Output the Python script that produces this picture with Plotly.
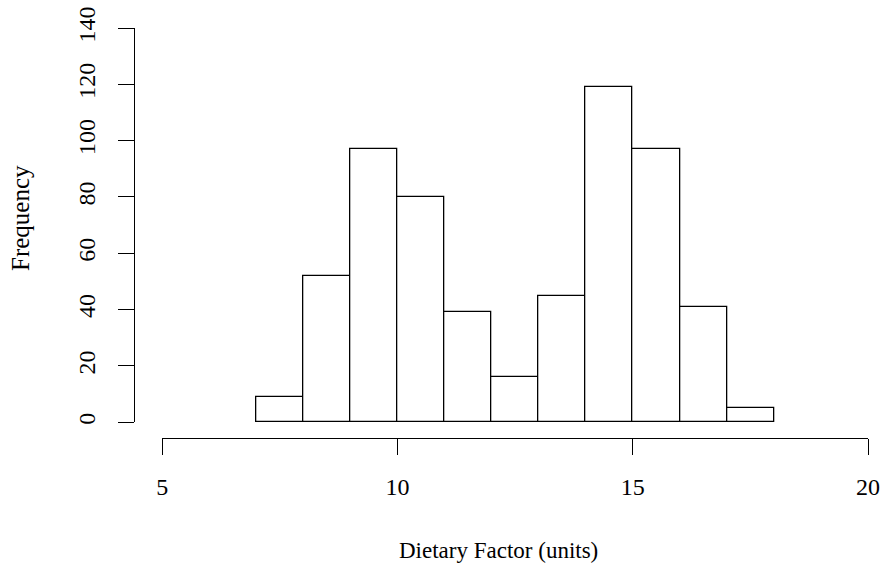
import plotly.graph_objects as go

bin_edges = [7, 8, 9, 10, 11, 12, 13, 14, 15, 16, 17, 18]
counts = [9, 52, 97, 80, 39, 16, 45, 119, 97, 41, 5]
x_ticks = [5, 10, 15, 20]
y_ticks = [0, 20, 40, 60, 80, 100, 120, 140]
x_title = "Dietary Factor (units)"
y_title = "Frequency"

centers = [(bin_edges[i] + bin_edges[i + 1]) / 2 for i in range(len(counts))]
widths = [bin_edges[i + 1] - bin_edges[i] for i in range(len(counts))]

FONT = "Liberation Serif, Times New Roman, serif"

fig = go.Figure(
    go.Bar(
        x=centers,
        y=counts,
        width=widths,
        marker=dict(color="white", line=dict(color="black", width=1.3)),
        hoverinfo="x+y",
    )
)

# Page body margin is removed by the post script, so figure pixels = page pixels.
W, H = 881, 566
L = 134          # y-axis line x
T = 28           # top of y axis
B = H - 438      # x-axis line y
R = W - 868      # right end of x axis
pw, ph = W - L - R, H - T - B

fig.update_layout(
    width=W,
    height=H,
    margin=dict(l=L, r=R, t=T, b=B, pad=0, autoexpand=False),
    paper_bgcolor="white",
    plot_bgcolor="white",
    showlegend=False,
    font=dict(family=FONT, size=24, color="black"),
    bargap=0,
)

fig.update_xaxes(
    domain=[(162.3 - L) / pw, 1],
    range=[5, 20],
    anchor="free",
    position=0,
    automargin=False,
    tickvals=x_ticks,
    ticktext=[str(v) for v in x_ticks],
    ticks="outside",
    ticklen=16,
    tickwidth=1,
    tickcolor="black",
    showline=True,
    linecolor="black",
    linewidth=1,
    showgrid=False,
    zeroline=False,
    ticklabelstandoff=11,
    ticklabeloverflow="allow",
    tickfont=dict(family=FONT, size=24, color="black"),
)

fig.update_yaxes(
    domain=[(438 - 422.3) / ph, 1],
    range=[0, 140],
    anchor="free",
    position=0,
    automargin=False,
    tickvals=y_ticks,
    ticktext=[str(v) for v in y_ticks],
    ticks="outside",
    ticklen=16,
    tickwidth=1,
    tickcolor="black",
    tickangle=-90,
    showline=True,
    linecolor="black",
    linewidth=1,
    showgrid=False,
    zeroline=False,
    ticklabelstandoff=13,
    ticklabeloverflow="allow",
    tickfont=dict(family=FONT, size=24, color="black"),
)

fig.add_annotation(
    text=x_title,
    xref="paper",
    yref="paper",
    x=((399 + 598) / 2 - L) / pw,
    y=0,
    yanchor="middle",
    xanchor="center",
    yshift=-(550 - 438),
    showarrow=False,
    font=dict(family=FONT, size=23, color="black"),
)

fig.add_annotation(
    text=y_title,
    xref="paper",
    yref="paper",
    x=0,
    y=1 - ((162 + 274) / 2 - T) / ph,
    xanchor="center",
    yanchor="middle",
    xshift=-(L - 20),
    textangle=-90,
    showarrow=False,
    font=dict(family=FONT, size=25, color="black"),
)

fig.write_html(
    "out.html",
    config={"displayModeBar": False},
    post_script="document.body.style.margin='0';document.body.style.overflow='hidden';",
)
